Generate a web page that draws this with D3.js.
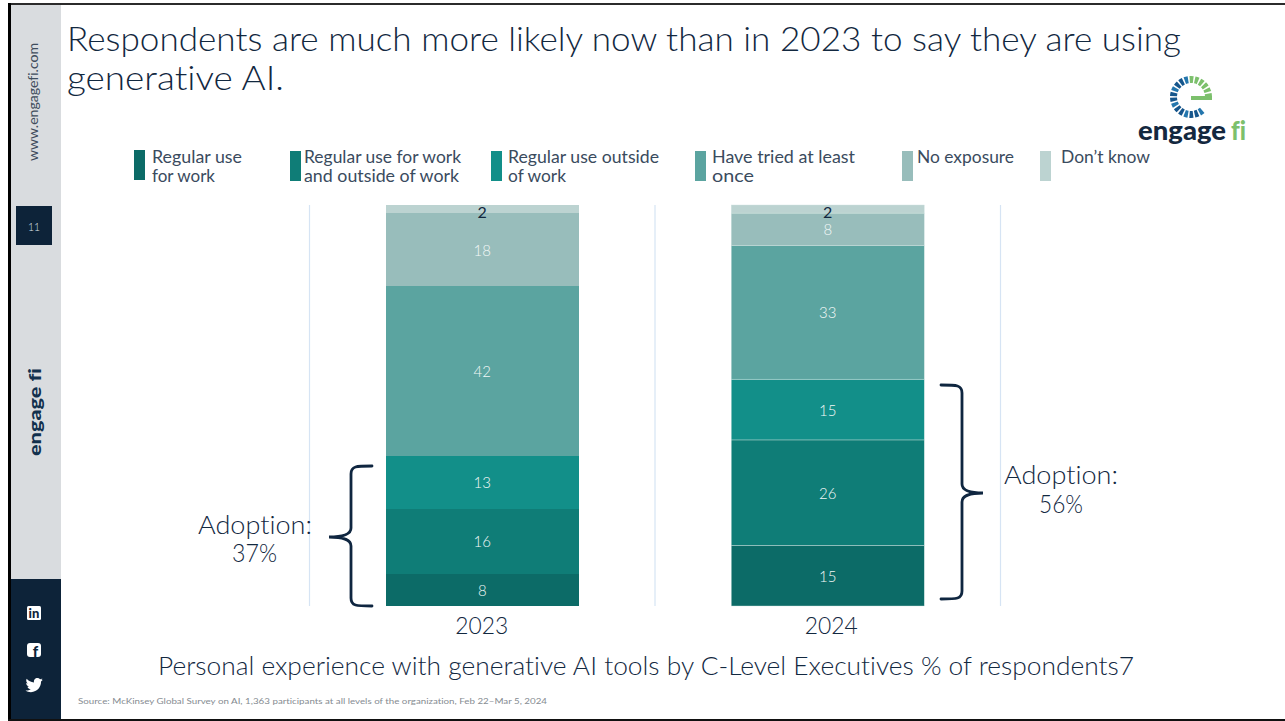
<!DOCTYPE html>
<html>
<head>
<meta charset="utf-8">
<title>Generative AI use</title>
<script src="https://cdn.jsdelivr.net/npm/d3@7"></script>
<style>
  html, body { margin: 0; padding: 0; background: #fff; overflow: hidden; }
  svg { display: block; }
  text { font-family: Lato, "Open Sans", sans-serif; font-variant-ligatures: none; }
</style>
</head>
<body>
<svg id="slide" width="1285" height="721"></svg>
<script>
// Survey shares by year, stacked bottom to top
const years = ["2023", "2024"];
const seriesNames = [
  "Regular use for work",
  "Regular use for work and outside of work",
  "Regular use outside of work",
  "Have tried at least once",
  "No exposure",
  "Don't know"
];
const values2023 = [8, 16, 13, 42, 18, 2];
const values2024 = [15, 26, 15, 33, 8, 2];
const adoption = ["37%", "56%"];
const seriesColors = ["#0c6b67", "#0f7d77", "#128f89", "#5ba4a0", "#98bdbb", "#bcd3d1"];

const navy = "#12283f";
const ink = "#3a4b5e";
const svg = d3.select("#slide");

// Text helper: every string is fitted to its measured run length
function fit(parent, str, x, y, size, width, opts = {}) {
  return parent.append("text")
    .attr("x", x).attr("y", y)
    .attr("font-size", size)
    .attr("font-weight", opts.weight || 300)
    .attr("fill", opts.fill || navy)
    .attr("textLength", width)
    .attr("lengthAdjust", "spacingAndGlyphs")
    .attr("transform", opts.rotate ? `rotate(-90 ${x} ${y})` : null)
    .text(str);
}

// Slide frame and side rail
svg.append("rect").attr("x", 8).attr("y", 3).attr("width", 1277).attr("height", 2).attr("fill", "#2b2b2b");
svg.append("rect").attr("x", 8).attr("y", 3).attr("width", 3).attr("height", 718).attr("fill", "#000");
svg.append("rect").attr("x", 8).attr("y", 719).attr("width", 1277).attr("height", 2).attr("fill", "#111");
svg.append("rect").attr("x", 11).attr("y", 5).attr("width", 50).attr("height", 574).attr("fill", "#d9dcdf");
svg.append("rect").attr("x", 11).attr("y", 579).attr("width", 50).attr("height", 140).attr("fill", "#0d2339");
svg.append("rect").attr("x", 16).attr("y", 206).attr("width", 36).attr("height", 39).attr("fill", "#0d2339");
fit(svg, "11", 28, 231, 12, 12, { fill: "#dfe3e7" });
fit(svg, "www.engagefi.com", 38, 161, 12.5, 118, { rotate: true, weight: 400, fill: "#3f4d5c" });
fit(svg, "engage fi", 41, 456, 17.5, 88, { rotate: true, weight: 900, fill: "#12304d" });

// Social icons in the rail
const icons = svg.append("g");
icons.append("rect").attr("x", 27).attr("y", 606).attr("width", 14).attr("height", 14).attr("rx", 1.5).attr("fill", "#fff");
icons.append("text").attr("x", 34).attr("y", 618).attr("text-anchor", "middle")
  .attr("font-size", 13).attr("font-weight", 900).attr("fill", "#0d2339").text("in");
icons.append("rect").attr("x", 27).attr("y", 643).attr("width", 14).attr("height", 14).attr("rx", 3).attr("fill", "#fff");
icons.append("text").attr("x", 35.5).attr("y", 657).attr("text-anchor", "middle")
  .attr("font-size", 15).attr("font-weight", 900).attr("fill", "#0d2339").text("f");
icons.append("path")
  .attr("transform", "translate(25.5 676.5) scale(0.72)")
  .attr("fill", "#fff")
  .attr("d", "M24 4.557c-.883.392-1.832.656-2.828.775 1.017-.609 1.798-1.574 2.165-2.724-.951.564-2.005.974-3.127 1.195-.897-.957-2.178-1.555-3.594-1.555-3.179 0-5.515 2.966-4.797 6.045-4.091-.205-7.719-2.165-10.148-5.144-1.29 2.213-.669 5.108 1.523 6.574-.806-.026-1.566-.247-2.229-.616-.054 2.281 1.581 4.415 3.949 4.89-.693.188-1.452.232-2.224.084.626 1.956 2.444 3.379 4.6 3.419-2.07 1.623-4.678 2.348-7.29 2.04 2.179 1.397 4.768 2.212 7.548 2.212 9.142 0 14.307-7.721 13.995-14.646.962-.695 1.797-1.562 2.457-2.549z");

// Heading
fit(svg, "Respondents are much more likely now than in 2023 to say they are using", 67, 51, 34, 1114);
fit(svg, "generative AI.", 67, 90, 34, 217);

// Brand mark: segmented ring with a pointer bar
const ringSegments = d3.range(19);
const ringArc = d3.arc().innerRadius(14).outerRadius(21);
const logo = svg.append("g").attr("transform", "translate(1191 97)");
logo.selectAll("path").data(ringSegments).join("path")
  .attr("d", i => {
    const a = (140 + i * 16.6) * Math.PI / 180;
    return ringArc({ startAngle: a, endAngle: a + 11.5 * Math.PI / 180 });
  })
  .attr("fill", i => i >= 13 ? "#7cc06c" : (i % 3 === 0 ? "#2476ad" : "#16568c"));
logo.append("rect").attr("x", 0).attr("y", -1).attr("width", 21).attr("height", 4).attr("fill", "#7cc06c");
fit(svg, "engage", 1138, 140, 26, 88, { weight: 900, fill: "#14283f" });
fit(svg, "fi", 1231, 140, 26, 15, { weight: 900, fill: "#7cc06c" });

// Legend
const legendRows = [
  { x: 134, y: 150, tx: 152, lines: [["Regular use", 90], ["for work", 63]] },
  { x: 290, y: 151, tx: 304, lines: [["Regular use for work", 157], ["and outside of work", 155]] },
  { x: 491, y: 151, tx: 508, lines: [["Regular use outside", 151], ["of work", 58]] },
  { x: 695, y: 151, tx: 712, lines: [["Have tried at least", 143], ["once", 42]] },
  { x: 902, y: 151, tx: 917, lines: [["No exposure", 97]] },
  { x: 1040, y: 151, tx: 1061, lines: [["Don\u2019t know", 89]] }
];
legendRows.forEach((row, i) => {
  svg.append("rect").attr("class", "swatch").attr("x", row.x).attr("y", row.y)
    .attr("width", 11).attr("height", 30).attr("fill", seriesColors[i])
    .append("title").text(seriesNames[i]);
  row.lines.forEach((ln, k) => fit(svg, ln[0], row.tx, 163 + k * 19, 16.5, ln[1], { fill: ink, weight: 400 }));
});

// Scales
const x = d3.scaleBand().domain(years).range([309.5, 1000.5]).paddingInner(0.4414).paddingOuter(0.2207);
const y = d3.scaleLinear().domain([0, 99]).range([606, 205]);
const rows = years.map((yr, i) => {
  const o = { year: yr };
  (i === 0 ? values2023 : values2024).forEach((v, s) => { o[seriesNames[s]] = v; });
  return o;
});
const stacked = d3.stack().keys(seriesNames)(rows);

// Vertical separators at the category boundaries
svg.append("g").selectAll("line").data(d3.range(years.length + 1)).join("line")
  .attr("x1", i => x.range()[0] + i * x.step()).attr("x2", i => x.range()[0] + i * x.step())
  .attr("y1", y(99)).attr("y2", y(0))
  .attr("stroke", "#d6e4f4").attr("stroke-width", 1.2);

// Stacked bars and value labels
const layers = svg.append("g").selectAll("g").data(stacked).join("g")
  .attr("fill", (d, i) => seriesColors[i]);
layers.selectAll("rect").data(d => d).join("rect")
  .attr("x", d => x(d.data.year))
  .attr("width", x.bandwidth())
  .attr("y", d => y(d[1]))
  .attr("height", d => y(d[0]) - y(d[1]))
  .attr("shape-rendering", d => d.data.year === "2023" ? "crispEdges" : null)
  .attr("stroke", d => d.data.year === "2024" ? "#cfe3e1" : "none")
  .attr("stroke-width", 0.4);
layers.each(function (series, si) {
  d3.select(this).selectAll("text").data(series).join("text")
    .attr("x", d => x(d.data.year) + x.bandwidth() / 2)
    .attr("y", d => (y(d[0]) + y(d[1])) / 2 + (si === 5 ? 8.5 : 6))
    .attr("text-anchor", "middle")
    .attr("font-size", si === 5 ? 16 : 15)
    .attr("font-weight", si === 5 ? 400 : 300)
    .attr("fill", si === 5 ? navy : "#f2f8f7")
    .text(d => d[1] - d[0]);
});

// Year axis
const axis = svg.append("g").attr("transform", `translate(0 ${y(0)})`)
  .call(d3.axisBottom(x).tickSize(0).tickPadding(11));
axis.select(".domain").remove();
axis.selectAll("text")
  .attr("font-size", 23.5)
  .attr("font-family", "Lato")
  .attr("font-weight", 300)
  .attr("fill", navy)
  .attr("dx", d => d === "2024" ? 3.5 : -0.5)
  .attr("textLength", 53)
  .attr("lengthAdjust", "spacingAndGlyphs");

// Adoption braces and call-outs
const braceStroke = g => g.attr("fill", "none").attr("stroke", "#0f2640")
  .attr("stroke-width", 2.8).attr("stroke-linecap", "round");
svg.append("path").call(braceStroke)
  .attr("d", "M372 466 C356 466 351 466 351 474 L351 528 C351 534 345 537 329 537 C345 537 351 540 351 546 L351 598 C351 606 356 606 372 606");
svg.append("path").call(braceStroke)
  .attr("d", "M941 385 C957 385 962 385 962 393 L962 484 C962 490 968 493 983 493 C968 493 962 496 962 502 L962 591 C962 599 957 599 941 599");

fit(svg, "Adoption:", 198, 534, 24.5, 114);
fit(svg, adoption[0], 232, 562, 24.5, 45);
fit(svg, "Adoption:", 1004, 484, 24.5, 114);
fit(svg, adoption[1], 1039, 513, 24.5, 44);

// Chart caption and source note
fit(svg, "Personal experience with generative AI tools by C-Level Executives % of respondents7", 158, 675, 24.5, 976);
fit(svg, "Source: McKinsey Global Survey on AI, 1,363 participants at all levels of the organization, Feb 22\u2013Mar 5, 2024", 78, 704, 8, 469, { fill: "#858b91", weight: 400 });
</script>
</body>
</html>
